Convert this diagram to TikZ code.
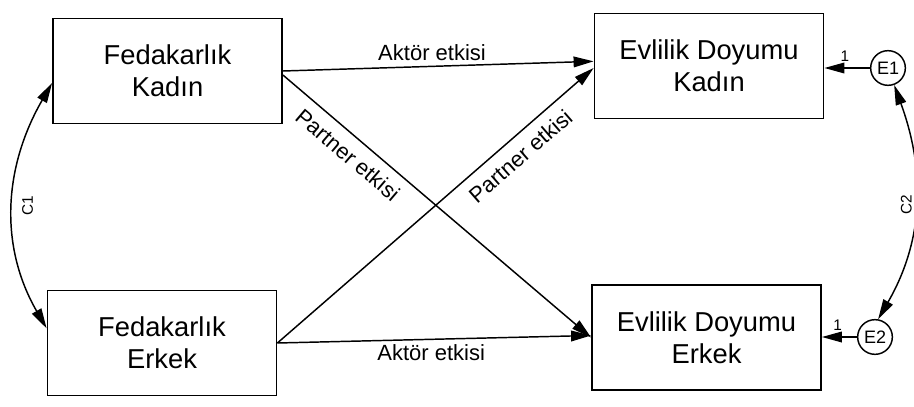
\documentclass[tikz,border=0pt]{standalone}
\usepackage{fontspec}
\setmainfont{Liberation Sans}
\usetikzlibrary{positioning, arrows.meta}

\begin{document}
\begin{tikzpicture}[
      x = 0.75pt, y = -0.75pt,
      box/.style    = {draw, line width=1.1pt, minimum width=172pt, minimum height=79pt,
                       align=center, inner sep=0pt, font=\fontsize{20.5}{24}\selectfont},
      err/.style    = {circle, draw, line width=1.1pt, minimum size=26pt, inner sep=0pt,
                       font=\fontsize{13.5}{16}\selectfont},
      effect/.style = {-{Triangle[length=15pt, width=8pt]}, line width=1.1pt},
      cov/.style    = {{Triangle[length=15pt, width=8pt]}-{Triangle[length=15pt, width=8pt]}, line width=1.1pt},
      lbl/.style    = {font=\fontsize{16.5}{19}\selectfont},
      tiny/.style   = {font=\fontsize{11.5}{13}\selectfont, inner sep=2pt}
    ]
    \useasboundingbox (0,0) rectangle (914,407);

    % observed variables
    \node[box] (fedK) at (167.5,71)  {Fedakarlık\\Kadın};
    \node[box] (fedE) at (162,343)   {Fedakarlık\\Erkek};
    \node[box] (doyK) at (709,66)    {Evlilik Doyumu\\Kadın};
    \node[box] (doyE) at (706.5,337.5) {Evlilik Doyumu\\Erkek};

    % error terms
    \node[err] (e1) at (888,68)  {E1};
    \node[err] (e2) at (875,337) {E2};

    % actor and partner paths
    \draw[effect] (fedK.east) -- node[lbl, above, pos=0.48] {Aktör etkisi} ([yshift=3.5pt]doyK.west);
    \draw[effect] ([yshift=-3pt]fedK.east) -- node[lbl, below=4pt, sloped, pos=0.25] {Partner etkisi} (doyE.west);
    \draw[effect] (fedE.east) -- node[lbl, below=4pt, sloped, pos=0.73] {Partner etkisi} ([yshift=-1.5pt]doyK.west);
    \draw[effect] (fedE.east) -- node[lbl, below, pos=0.49] {Aktör etkisi} ([yshift=1.5pt]doyE.west);

    % errors
    \draw[effect] (e1) -- node[tiny, above=2pt, pos=0.55] {1} (e1 -| doyK.east);
    \draw[effect] (e2) -- node[tiny, above=2pt, pos=0.55] {1} (e2 -| doyE.east);

    % covariances
    \draw[cov] ([yshift=-9pt]fedK.west) to[out=240, in=120]
      node[tiny, midway, right=4pt] {\rotatebox{90}{C1}} ([yshift=11pt]fedE.west);
    \draw[cov] (e1.-70) to[out=-70, in=60]
      node[tiny, midway, left=0pt] {\rotatebox{90}{C2}} (e2.80);
  \end{tikzpicture}
\end{document}
